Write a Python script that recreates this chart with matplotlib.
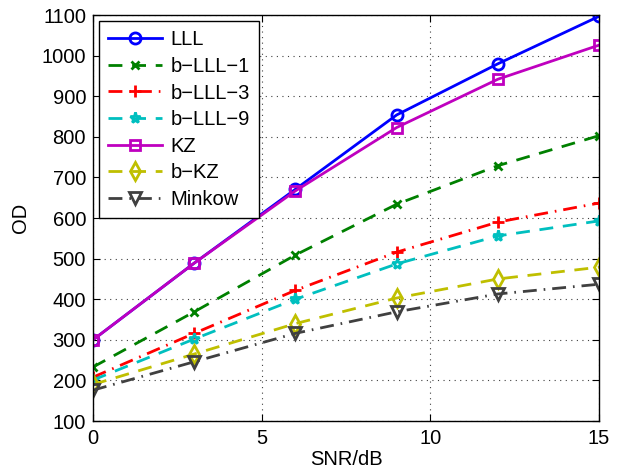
import matplotlib
matplotlib.use("Agg")
import matplotlib.pyplot as plt

snr = [0, 3, 6, 9, 12, 15]
lll = [300, 489, 671, 854, 980, 1097]
blll1 = [233, 369, 509, 634, 729, 803]
blll3 = [208, 316, 422, 516, 590, 637]
blll9 = [201, 302, 400, 487, 556, 593]
kz = [300, 489, 667, 823, 942, 1026]
bkz = [190, 265, 340, 403, 450, 479]
minkow = [176, 246, 316, 369, 413, 437]

labels = ["LLL", "b\u2212LLL\u22121", "b\u2212LLL\u22123", "b\u2212LLL\u22129", "KZ", "b\u2212KZ", "Minkow"]
series = [lll, blll1, blll3, blll9, kz, bkz, minkow]
colors = ["#0000ff", "#008000", "#ff0000", "#00bfbf", "#bf00bf", "#bfbf00", "#404040"]
dash = (0, (5, 3.5))
dashdot = (0, (5, 2.5, 0.6, 2.5))
styles = ["-", dash, dashdot, dash, "-", dash, dashdot]
markers = ["o", "x", "+", "*", "s", "d", "v"]
msizes = [8, 6, 9, 8, 7, 9, 9]

plt.rcParams["font.family"] = ["Liberation Sans", "DejaVu Sans"]
plt.rcParams["font.size"] = 14.5

fig = plt.figure(figsize=(6.18, 4.72), dpi=100)
ax = fig.add_axes([0.1505, 0.108, 0.8188, 0.86])

for y, lab, c, ls, m, ms in zip(series, labels, colors, styles, markers, msizes):
    ax.plot(snr, y, color=c, linestyle=ls, marker=m, lw=2, ms=ms, mew=2,
            mfc="none", label=lab)

ax.set_xlim(0, 15)
ax.set_ylim(100, 1100)
ax.set_xticks([0, 5, 10, 15])
ax.set_yticks(range(100, 1101, 100))
ax.grid(True, linestyle=(0, (1, 4)), color="#404040", lw=0.8)
ax.tick_params(direction="in", top=True, right=True, length=5, width=0.8)
ax.tick_params(axis="x", pad=6)
ax.tick_params(axis="y", pad=5)
for s in ax.spines.values():
    s.set_linewidth(1)
ax.set_xlabel("SNR/dB", labelpad=1)
ax.set_ylabel("OD", labelpad=8)

leg = ax.legend(loc="upper left", fancybox=False, framealpha=1, edgecolor="black",
                handlelength=2.7, labelspacing=0.38, borderaxespad=0.3,
                handletextpad=0.4, borderpad=0.45)
leg.get_frame().set_linewidth(1)

fig.savefig("out.png", dpi=100)
